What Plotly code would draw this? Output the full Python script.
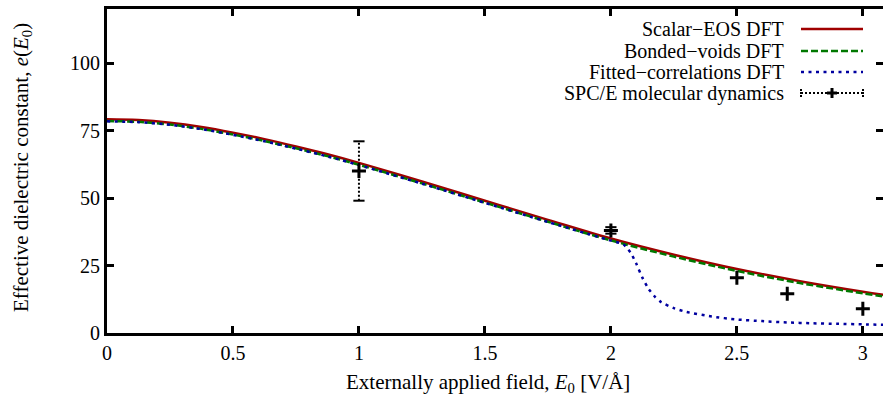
import plotly.graph_objects as go

# ---- data ----
field_scalar = [0, 0.125, 0.25, 0.375, 0.5, 0.625, 0.75, 0.875, 1.0, 1.25, 1.5, 1.75, 2.0, 2.25, 2.5, 2.75, 3.0, 3.1]
eps_scalar = [79.2, 78.9, 77.9, 76.3, 74.2, 71.8, 69.1, 66.2, 63.0, 56.1, 49.0, 41.9, 35.0, 29.0, 23.7, 19.2, 15.3, 13.9]

field_voids = [0, 0.125, 0.25, 0.375, 0.5, 0.625, 0.75, 0.875, 1.0, 1.25, 1.5, 1.75, 2.0, 2.25, 2.5, 2.75, 3.0, 3.1]
eps_voids = [78.5, 78.2, 77.2, 75.6, 73.5, 71.1, 68.4, 65.5, 62.3, 55.4, 48.3, 41.2, 34.3, 28.3, 23.0, 18.5, 14.7, 13.3]

field_fitted = [0, 0.125, 0.25, 0.375, 0.5, 0.625, 0.75, 0.875, 1.0, 1.25, 1.5, 1.75, 2.0, 2.05, 2.08, 2.1, 2.125,
                2.15, 2.175, 2.2, 2.25, 2.3, 2.4, 2.5, 2.6, 2.7, 2.8, 2.9, 3.0, 3.1]
eps_fitted = [78.4, 78.1, 77.1, 75.5, 73.4, 71.0, 68.3, 65.4, 62.2, 55.3, 48.2, 41.1, 34.2, 32.8, 29.5, 25.8, 20.5,
              16.3, 13.4, 11.4, 9.2, 7.8, 6.1, 5.0, 4.4, 3.9, 3.6, 3.4, 3.2, 3.0]

field_md = [1.0, 2.0, 2.5, 2.7, 3.0]
eps_md = [60.0, 38.0, 20.5, 14.5, 9.0]
err_md = [11.0, 1.2, 0.0, 0.0, 0.0]

series_names = ["Scalar\u2212EOS DFT", "Bonded\u2212voids DFT", "Fitted\u2212correlations DFT", "SPC/E molecular dynamics"]
x_ticks = [0, 0.5, 1, 1.5, 2, 2.5, 3]
x_tick_labels = ["0", "0.5", "1", "1.5", "2", "2.5", "3"]
y_ticks = [0, 25, 50, 75, 100]
y_tick_labels = ["0", "25", "50", "75", "100"]

RED = "#a00000"
GREEN = "#007800"
BLUE = "#0000a0"
FONT = "'Liberation Serif', 'Times New Roman', 'DejaVu Serif', serif"

W, H = 883, 396
ML, MR, MT, MB = 107, 0, 9, 63
PW, PH = W - ML - MR, H - MT - MB

def px(x):
    return (x - ML) / PW

def py(y):
    return (H - MB - y) / PH

fig = go.Figure()

fig.add_trace(go.Scatter(x=field_scalar, y=eps_scalar, mode="lines", line=dict(color=RED, width=2.5, shape="spline"),
                         name=series_names[0], showlegend=False))
fig.add_trace(go.Scatter(x=field_voids, y=eps_voids, mode="lines",
                         line=dict(color=GREEN, width=2.5, dash="7px,3px", shape="spline"),
                         name=series_names[1], showlegend=False))
fig.add_trace(go.Scatter(x=field_fitted, y=eps_fitted, mode="lines",
                         line=dict(color=BLUE, width=2.5, dash="3px,4.5px", shape="spline", smoothing=0.6),
                         name=series_names[2], showlegend=False))

# dotted error bars built from the data arrays
eb_x, eb_y, cap_x, cap_y = [], [], [], []
for xv, yv, ev in zip(field_md, eps_md, err_md):
    if ev > 0:
        eb_x += [xv, xv, None]
        eb_y += [yv - ev, yv + ev, None]
        cap_x += [xv, xv]
        cap_y += [yv - ev, yv + ev]
fig.add_trace(go.Scatter(x=eb_x, y=eb_y, mode="lines", line=dict(color="black", width=2, dash="2px,2px"),
                         showlegend=False, hoverinfo="skip"))
fig.add_trace(go.Scatter(x=cap_x, y=cap_y, mode="markers",
                         marker=dict(symbol="line-ew", size=8, line=dict(color="black", width=2)),
                         showlegend=False, hoverinfo="skip"))
fig.add_trace(go.Scatter(x=field_md, y=eps_md, mode="markers",
                         marker=dict(symbol="cross-thin", size=10, color="black", line=dict(color="black", width=3)),
                         name=series_names[3], showlegend=False))

# right-side ticks (no border line visible in the reference)
fig.add_trace(go.Scatter(x=[None], y=[None], yaxis="y2", showlegend=False, hoverinfo="skip"))

# ---- legend (gnuplot style: text left, sample right) ----
rows_y = [29, 51, 72, 93]
text_x = 786
samp_x0, samp_x1 = 801, 863
shapes = []
annots = []
styles = [dict(color=RED, width=2.5), dict(color=GREEN, width=2.5, dash="7px,3px"),
          dict(color=BLUE, width=2.5, dash="3px,4.5px")]
for i, name in enumerate(series_names):
    annots.append(dict(x=px(text_x), y=py(rows_y[i]), xref="paper", yref="paper", text=name, showarrow=False,
                       xanchor="right", yanchor="middle", font=dict(family=FONT, size=20, color="black")))
    if i < 3:
        shapes.append(dict(type="line", xref="paper", yref="paper", x0=px(samp_x0), x1=px(samp_x1),
                           y0=py(rows_y[i]), y1=py(rows_y[i]), line=styles[i]))
ry = rows_y[3]
shapes.append(dict(type="line", xref="paper", yref="paper", x0=px(samp_x0), x1=px(samp_x1), y0=py(ry), y1=py(ry),
                   line=dict(color="black", width=2, dash="2px,2px")))
for cx in (samp_x0, samp_x1):
    shapes.append(dict(type="line", xref="paper", yref="paper", x0=px(cx), x1=px(cx), y0=py(ry - 4), y1=py(ry + 4),
                       line=dict(color="black", width=2, dash="2px,1px")))
cmid = (samp_x0 + samp_x1) / 2
shapes.append(dict(type="line", xref="paper", yref="paper", x0=px(cmid - 5), x1=px(cmid + 5), y0=py(ry), y1=py(ry),
                   line=dict(color="black", width=3)))
shapes.append(dict(type="line", xref="paper", yref="paper", x0=px(cmid), x1=px(cmid), y0=py(ry - 5), y1=py(ry + 5),
                   line=dict(color="black", width=3)))

# axis titles
annots.append(dict(x=px(488), y=py(383), xref="paper", yref="paper",
                   text="Externally applied field, <i>E</i><sub>0</sub> [V/\u00c5]", showarrow=False,
                   xanchor="center", yanchor="middle", font=dict(family=FONT, size=21, color="black")))
annots.append(dict(x=px(22), y=py(168), xref="paper", yref="paper",
                   text="Effective dielectric constant, <i>e</i>(<i>E</i><sub>0</sub>)", showarrow=False, textangle=-90,
                   xanchor="center", yanchor="middle", font=dict(family=FONT, size=21, color="black")))

fig.update_layout(
    width=W, height=H,
    margin=dict(l=ML, r=MR, t=MT, b=MB),
    paper_bgcolor="white", plot_bgcolor="white",
    font=dict(family=FONT, size=20, color="black"),
    shapes=shapes, annotations=annots,
    xaxis=dict(range=[0, 3.08], tickvals=x_ticks, ticktext=x_tick_labels, ticks="inside", ticklen=7, tickwidth=2.5,
               tickcolor="black", showline=True, linecolor="black", linewidth=3, mirror="ticks", showgrid=False,
               zeroline=False, tickfont=dict(family=FONT, size=20, color="black")),
    yaxis=dict(range=[0, 120], tickvals=y_ticks, ticktext=y_tick_labels, ticks="inside", ticklen=7, tickwidth=2.5,
               tickcolor="black", showline=True, linecolor="black", linewidth=3, showgrid=False, zeroline=False,
               tickfont=dict(family=FONT, size=20, color="black")),
    yaxis2=dict(range=[0, 120], overlaying="y", side="right", tickvals=y_ticks, ticks="inside", ticklen=7,
                tickwidth=2.5, tickcolor="black", showticklabels=False, showline=False, showgrid=False,
                zeroline=False),
    showlegend=False,
)

fig.write_html("out.html")
